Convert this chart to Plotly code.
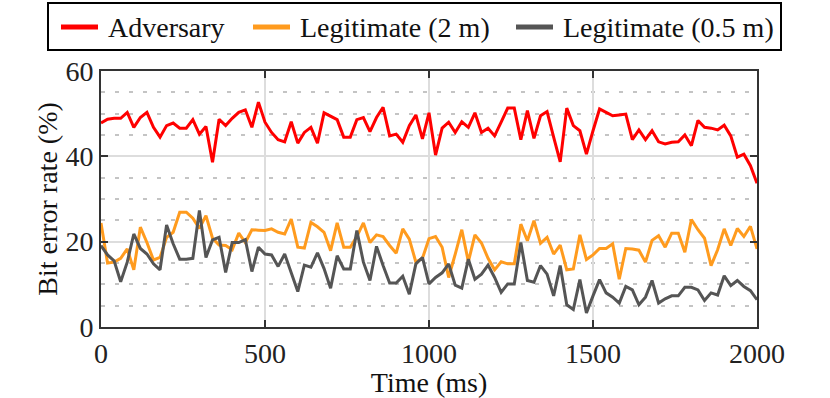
import plotly.graph_objects as go

# Temps d'echantillonnage (pas de 20 ms)
time_ms = list(range(0, 2001, 20))

adversary = [
    47.8, 48.7, 48.9, 48.9, 50.3, 46.8, 49.1, 50.3, 46.8, 44.5,
    47.2, 47.8, 46.6, 46.6, 48.6, 45.2, 47.0, 38.6, 48.7, 47.2,
    48.9, 50.3, 50.9, 46.8, 52.7, 48.0, 45.6, 43.9, 43.4, 48.1,
    43.1, 45.6, 46.8, 43.1, 50.2, 49.4, 48.6, 44.5, 44.5, 48.6,
    49.1, 45.8, 49.1, 51.5, 44.8, 45.2, 43.3, 47.2, 49.7, 44.1,
    50.2, 40.3, 46.6, 48.0, 45.6, 48.1, 46.8, 50.2, 45.6, 46.6,
    44.8, 48.0, 51.3, 51.3, 43.9, 50.7, 44.2, 49.5, 50.5, 44.5,
    38.7, 51.3, 47.2, 46.0, 40.5, 46.0, 51.1, 50.3, 49.5, 49.7,
    49.9, 43.9, 46.2, 43.9, 46.0, 43.4, 42.9, 43.3, 43.4, 45.0,
    42.5, 48.4, 46.8, 46.6, 46.2, 47.3, 44.8, 39.8, 40.5, 37.8,
    33.7,
]

legit_2m = [
    24.4, 15.0, 15.2, 16.1, 18.3, 13.4, 23.4, 19.8, 15.7, 16.3,
    21.0, 22.2, 26.9, 26.9, 25.5, 23.1, 26.1, 20.8, 19.2, 19.1,
    18.1, 22.0, 19.8, 22.8, 22.7, 22.6, 23.0, 22.2, 21.8, 25.3,
    18.7, 18.5, 24.5, 23.5, 22.2, 17.9, 24.4, 18.7, 18.7, 21.2,
    24.4, 19.8, 21.6, 21.2, 19.1, 17.3, 23.0, 20.6, 15.2, 16.1,
    20.7, 21.2, 18.7, 11.6, 17.1, 22.8, 15.3, 21.6, 19.7, 16.1,
    13.4, 15.3, 14.8, 14.8, 24.1, 20.2, 24.9, 19.6, 21.0, 17.1,
    19.2, 13.4, 13.6, 21.6, 15.8, 16.9, 18.4, 18.4, 19.5, 11.2,
    18.4, 18.3, 18.0, 15.2, 20.3, 21.4, 18.7, 22.0, 22.0, 17.5,
    25.2, 22.8, 20.8, 14.4, 18.1, 23.0, 19.1, 23.1, 21.2, 23.6,
    18.3,
]

legit_05m = [
    19.1, 16.9, 15.5, 10.6, 15.2, 21.8, 18.4, 17.1, 14.8, 13.4,
    23.9, 19.5, 15.9, 15.9, 16.1, 27.3, 16.3, 20.4, 21.0, 12.8,
    19.8, 19.8, 20.5, 13.0, 18.7, 17.1, 16.9, 14.2, 17.1, 12.8,
    8.3, 14.5, 14.0, 17.4, 13.7, 9.1, 16.7, 13.6, 13.6, 22.6,
    15.2, 10.9, 18.9, 14.4, 10.3, 10.3, 11.9, 7.7, 14.8, 16.3,
    10.1, 11.6, 12.7, 14.8, 9.8, 9.1, 15.9, 11.2, 12.4, 14.5,
    11.6, 8.1, 10.1, 10.1, 19.8, 10.9, 10.5, 14.4, 12.4, 7.3,
    14.4, 5.2, 4.1, 11.1, 3.3, 7.3, 11.1, 8.0, 7.0, 5.6,
    9.5, 8.7, 5.2, 7.0, 10.9, 5.6, 6.6, 7.3, 7.3, 9.3,
    9.3, 8.7, 6.2, 8.0, 7.5, 12.0, 9.7, 10.9, 9.5, 8.5,
    6.4,
]

noms = ["Adversary", "Legitimate (2 m)", "Legitimate (0.5 m)"]
couleurs = ["#ff0000", "#ff9b1e", "#555555"]
valeurs = [adversary, legit_2m, legit_05m]

police = "Liberation Serif"

# Zone de trace en pixels (pour placer la legende dessinee a la main)
G, D, H, B = 101, 757, 71, 327


def px_x(px):
    return (px - G) / (D - G)


def px_y(py):
    return (B - py) / (B - H)


fig = go.Figure()
for nom, serie, couleur in zip(noms, valeurs, couleurs):
    fig.add_trace(go.Scatter(
        x=time_ms, y=serie, mode="lines", name=nom,
        line=dict(color=couleur, width=3), showlegend=False,
    ))

axe_commun = dict(
    showline=True, linecolor="#333333", linewidth=2, mirror="ticks",
    ticks="inside", ticklen=7, tickwidth=2, tickcolor="#333333",
    showgrid=True, gridcolor="#dddddd", gridwidth=2,
    zeroline=False,
    tickfont=dict(family=police, size=28, color="#222222"),
)

fig.update_xaxes(
    range=[0, 2000], tickvals=[0, 500, 1000, 1500, 2000],
    title=dict(text="Time (ms)", font=dict(family=police, size=28, color="#111111"),
               standoff=0),
    **axe_commun,
)
fig.update_yaxes(
    range=[0, 60], tickvals=[0, 20, 40, 60],
    title=dict(text="Bit error rate (%)", font=dict(family=police, size=28, color="#111111"),
               standoff=0),
    minor=dict(dtick=5, showgrid=True, gridcolor="#c4c4c4", gridwidth=2,
               griddash="4px,10px", ticks=""),
    **axe_commun,
)

# Legende : cadre, traits et libelles
fig.add_shape(type="rect", xref="paper", yref="paper",
              x0=px_x(48), x1=px_x(781), y0=px_y(50), y1=px_y(3),
              line=dict(color="black", width=2), fillcolor="white")
debut_trait = [61, 253, 516]
for k, (nom, couleur) in enumerate(zip(noms, couleurs)):
    x0 = debut_trait[k]
    fig.add_shape(type="line", xref="paper", yref="paper",
                  x0=px_x(x0), x1=px_x(x0 + 37), y0=px_y(27), y1=px_y(27),
                  line=dict(color=couleur, width=5))
    fig.add_annotation(text=nom, xref="paper", yref="paper",
                       x=px_x(x0 + 45), y=px_y(27), xanchor="left", yanchor="middle",
                       showarrow=False, font=dict(family=police, size=28, color="#111111"))

fig.update_layout(
    width=830, height=398,
    margin=dict(l=G, r=830 - D, t=H, b=398 - B, autoexpand=False),
    plot_bgcolor="white", paper_bgcolor="white",
    showlegend=False,
)

fig.write_html("out.html", config={"displayModeBar": False},
               post_script="document.body.style.margin='0px';")
